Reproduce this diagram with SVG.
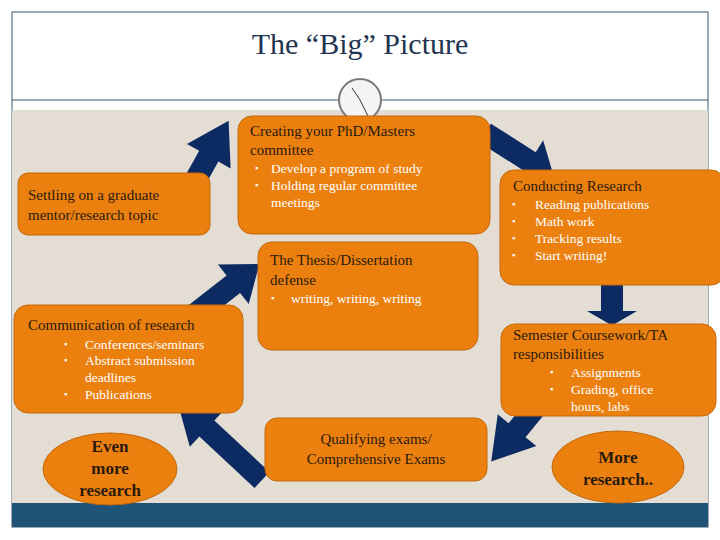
<svg xmlns="http://www.w3.org/2000/svg" width="720" height="540" viewBox="0 0 720 540">
<style>
.box{fill:#ec800f;stroke:#c2690a;stroke-width:1}
.h{font-family:"Liberation Serif",serif;font-size:15px;fill:#2a1a0a}
.b{font-family:"Liberation Serif",serif;font-size:13.5px;fill:#ffffff}
.d{font-family:"Liberation Serif",serif;font-size:9px;fill:#ffffff}
.e{font-family:"Liberation Serif",serif;font-size:17px;font-weight:bold;fill:#2a1a0a;text-anchor:middle}
.arr{fill:#0c2b62}
</style>
<defs>
<polygon id="ar" points="0,-11 52,-11 52,-25 80,0 52,25 52,11 0,11"/>
</defs>
<rect x="0" y="0" width="720" height="540" fill="#fff"/>
<rect x="12" y="12" width="696" height="515" fill="#fff" stroke="#3a5a70" stroke-width="1"/>
<rect x="12" y="110" width="696" height="393" fill="#e3ddd3"/>
<line x1="12" y1="100" x2="708" y2="100" stroke="#3a5a70" stroke-width="1"/>
<rect x="12" y="503" width="696" height="24" fill="#1f5478"/>
<text x="360" y="54" text-anchor="middle" font-family="Liberation Serif,serif" font-size="30" fill="#1f3550">The “Big” Picture</text>
<g id="clock">
<circle cx="360" cy="100" r="21" fill="#f4f4f4" stroke="#777" stroke-width="2"/>
<line x1="360" y1="100" x2="352" y2="88" stroke="#333" stroke-width="1"/>
<line x1="360" y1="100" x2="368" y2="116" stroke="#333" stroke-width="1"/>
</g>
<g id="connectors" class="arr">
<use href="#ar" transform="translate(172,222) rotate(-60.8) scale(1.45,1)"/>
<use href="#ar" transform="translate(485,133) rotate(32.4) scale(1.02,1)"/>
<use href="#ar" transform="translate(612,284) rotate(90) scale(0.52,1)"/>
<use href="#ar" transform="translate(565,372) rotate(129.5) scale(1.45,1)"/>
<use href="#ar" transform="translate(262,480) rotate(223) scale(1.45,1)"/>
<use href="#ar" transform="translate(185,322) rotate(-38) scale(1.18,1)"/>
</g>
<g id="creating">
<rect class="box" x="238" y="116" width="252" height="118" rx="14"/>
<text class="h" x="250" y="136">Creating your PhD/Masters</text>
<text class="h" x="250" y="155">committee</text>
<text class="d" x="255" y="171">▪</text><text class="b" x="271" y="173">Develop a program of study</text>
<text class="d" x="255" y="188">▪</text><text class="b" x="271" y="190">Holding regular committee</text>
<text class="b" x="271" y="207">meetings</text>
</g>
<g id="settling">
<rect class="box" x="18" y="173" width="192" height="62" rx="10"/>
<text class="h" x="28" y="200">Settling on a graduate</text>
<text class="h" x="28" y="220">mentor/research topic</text>
</g>
<g id="conducting">
<rect class="box" x="500" y="170" width="225" height="115" rx="14"/>
<text class="h" x="513" y="191">Conducting Research</text>
<text class="d" x="512" y="207">▪</text><text class="b" x="535" y="209">Reading publications</text>
<text class="d" x="512" y="224">▪</text><text class="b" x="535" y="226">Math work</text>
<text class="d" x="512" y="241">▪</text><text class="b" x="535" y="243">Tracking results</text>
<text class="d" x="512" y="258">▪</text><text class="b" x="535" y="260">Start writing!</text>
</g>
<g id="thesis">
<rect class="box" x="258" y="242" width="220" height="108" rx="14"/>
<text class="h" x="270" y="265">The Thesis/Dissertation</text>
<text class="h" x="270" y="285">defense</text>
<text class="d" x="271" y="301">▪</text><text class="b" x="291" y="303">writing, writing, writing</text>
</g>
<g id="communication">
<rect class="box" x="14" y="305" width="229" height="108" rx="14"/>
<text class="h" x="28" y="330">Communication of research</text>
<text class="d" x="64" y="347">▪</text><text class="b" x="85" y="349">Conferences/seminars</text>
<text class="d" x="64" y="363">▪</text><text class="b" x="85" y="365">Abstract submission</text>
<text class="b" x="85" y="382">deadlines</text>
<text class="d" x="64" y="397">▪</text><text class="b" x="85" y="399">Publications</text>
</g>
<g id="semester">
<rect class="box" x="501" y="324" width="215" height="92" rx="14"/>
<text class="h" x="513" y="340">Semester Coursework/TA</text>
<text class="h" x="513" y="359">responsibilities</text>
<text class="d" x="550" y="375">▪</text><text class="b" x="571" y="377">Assignments</text>
<text class="d" x="550" y="392">▪</text><text class="b" x="571" y="394">Grading, office</text>
<text class="b" x="571" y="411">hours, labs</text>
</g>
<g id="qualifying">
<rect class="box" x="265" y="418" width="222" height="63" rx="12"/>
<text class="h" x="376" y="444" text-anchor="middle">Qualifying exams/</text>
<text class="h" x="376" y="464" text-anchor="middle">Comprehensive Exams</text>
</g>
<g id="evenmore">
<ellipse class="box" cx="110" cy="469" rx="67" ry="36"/>
<text class="e" x="110" y="452">Even</text>
<text class="e" x="110" y="474">more</text>
<text class="e" x="110" y="496">research</text>
</g>
<g id="moreresearch">
<ellipse class="box" cx="618" cy="467" rx="66" ry="36"/>
<text class="e" x="618" y="463">More</text>
<text class="e" x="618" y="485">research..</text>
</g>
</svg>
